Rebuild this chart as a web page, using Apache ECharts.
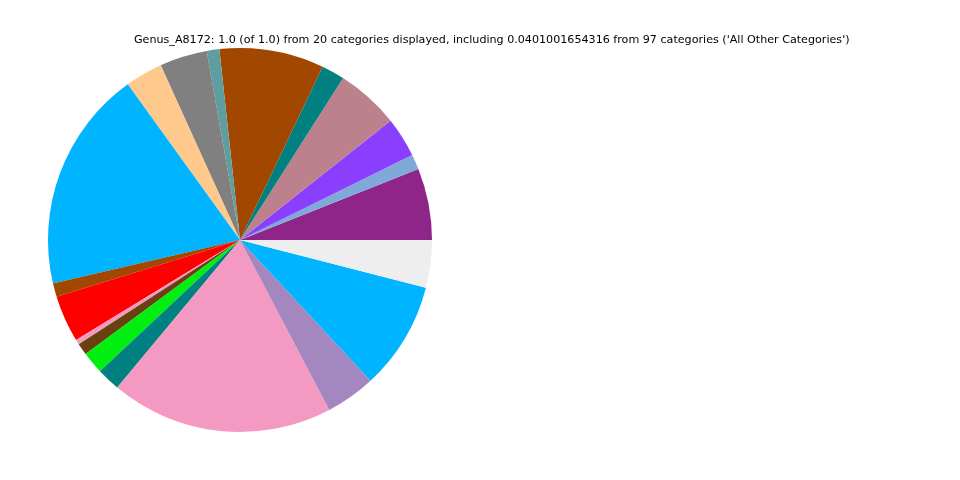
<!DOCTYPE html>
<html>
<head>
<meta charset="utf-8">
<script src="https://cdn.jsdelivr.net/npm/echarts@6/dist/echarts.min.js"></script>
<style>html,body{margin:0;padding:0;background:#fff;}#c{width:960px;height:480px;}</style>
</head>
<body>
<div id="c"></div>
<script>
var titleText = "Genus_A8172: 1.0 (of 1.0) from 20 categories displayed, including 0.0401001654316 from 97 categories ('All Other Categories')";
var categories = ["Category 1","Category 2","Category 3","Category 4","Category 5","Category 6","Category 7","Category 8","Category 9","Category 10","Category 11","Category 12","Category 13","Category 14","Category 15","Category 16","Category 17","Category 18","Category 19","All Other Categories"];
var values = [0.0604,0.0126,0.0336,0.0533,0.0194,0.0880,0.0106,0.0400,0.0317,0.1870,0.0114,0.0394,0.0042,0.0100,0.0186,0.0197,0.1875,0.0420,0.0910,0.0401];
var colors = ["#902589","#7EA9D8","#8A3FFF","#BC818C","#008080","#A24700","#5F9EA0","#808080","#FFC88C","#00B4FF","#A24700","#FF0000","#F49AC2","#6B400F","#00EE10","#008080","#F49AC2","#A487BF","#00B4FF","#EEEEEE"];

var chart = echarts.init(document.getElementById('c'), null, {renderer:'canvas'});
var data = categories.map(function(n,i){ return {name:n, value:values[i], itemStyle:{color:colors[i]}}; });
chart.setOption({
  animation:false,
  backgroundColor:'#ffffff',
  title:{text:titleText, left:129, top:30,
    textStyle:{fontFamily:'DejaVu Sans', fontSize:11.13, fontWeight:'normal', color:'#000'}},
  series:[{
    type:'pie', center:[240,240], radius:[0,192],
    startAngle:0, clockwise:false, minAngle:0, avoidLabelOverlap:false,
    label:{show:false}, labelLine:{show:false},
    itemStyle:{borderWidth:0},
    emphasis:{disabled:true},
    data:data
  }]
});
</script>
</body>
</html>
